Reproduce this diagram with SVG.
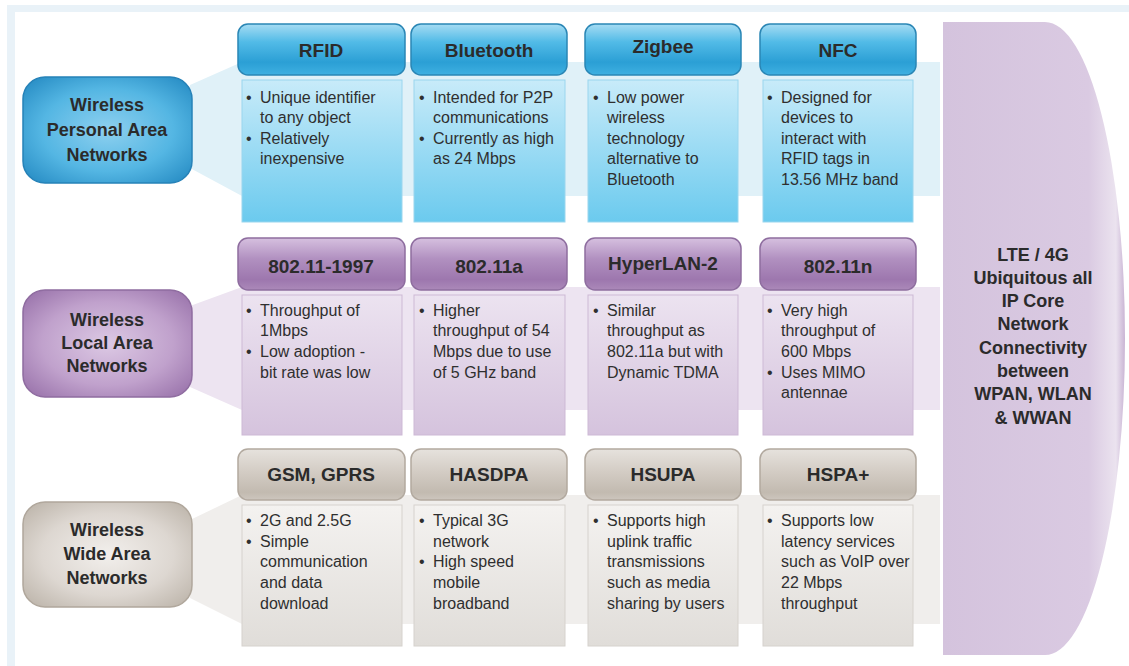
<svg xmlns="http://www.w3.org/2000/svg" width="1129" height="666" viewBox="0 0 1129 666">
<defs>
<linearGradient id="hBlue" x1="0" y1="0" x2="0" y2="1"><stop offset="0" stop-color="#a6dcf3"/><stop offset="0.35" stop-color="#52bbe7"/><stop offset="0.75" stop-color="#2b9fd5"/><stop offset="1" stop-color="#3fb0e1"/></linearGradient>
<linearGradient id="hPurple" x1="0" y1="0" x2="0" y2="1"><stop offset="0" stop-color="#d6c0df"/><stop offset="0.4" stop-color="#b190c0"/><stop offset="0.8" stop-color="#9d77ae"/><stop offset="1" stop-color="#ab89b9"/></linearGradient>
<linearGradient id="hGray" x1="0" y1="0" x2="0" y2="1"><stop offset="0" stop-color="#e6e2dd"/><stop offset="0.45" stop-color="#d3ccc4"/><stop offset="0.85" stop-color="#c2bab0"/><stop offset="1" stop-color="#cdc6be"/></linearGradient>
<linearGradient id="bBlue" x1="0" y1="0" x2="0" y2="1"><stop offset="0" stop-color="#c8ebf9"/><stop offset="1" stop-color="#6bcaee"/></linearGradient>
<linearGradient id="bPurple" x1="0" y1="0" x2="0" y2="1"><stop offset="0" stop-color="#ece3f0"/><stop offset="1" stop-color="#d5c3dd"/></linearGradient>
<linearGradient id="bGray" x1="0" y1="0" x2="0" y2="1"><stop offset="0" stop-color="#f4f2f0"/><stop offset="1" stop-color="#e0ddd9"/></linearGradient>
<radialGradient id="lBlue" cx="0.5" cy="0.5" r="0.65"><stop offset="0" stop-color="#8ed0ef"/><stop offset="0.6" stop-color="#54b6e3"/><stop offset="1" stop-color="#2a8fc6"/></radialGradient>
<radialGradient id="lPurple" cx="0.5" cy="0.5" r="0.65"><stop offset="0" stop-color="#dcc9e4"/><stop offset="0.6" stop-color="#c0a1cc"/><stop offset="1" stop-color="#9c76ad"/></radialGradient>
<radialGradient id="lGray" cx="0.5" cy="0.5" r="0.65"><stop offset="0" stop-color="#f2efec"/><stop offset="0.6" stop-color="#ddd7d1"/><stop offset="1" stop-color="#bfb7ad"/></radialGradient>
<linearGradient id="arch" x1="0" y1="0" x2="1" y2="0"><stop offset="0" stop-color="#d4c3dd"/><stop offset="0.8" stop-color="#dacae2"/><stop offset="0.95" stop-color="#ebe3ef"/><stop offset="1" stop-color="#c9b4d4"/></linearGradient>
</defs>
<style>
.hd{font-family:"Liberation Sans",Arial,sans-serif;font-weight:bold;font-size:19px;fill:#2b2b2b;text-anchor:middle}
.lb{font-family:"Liberation Sans",Arial,sans-serif;font-weight:bold;font-size:18px;fill:#2b2b2b;text-anchor:middle}
.tx{font-family:"Liberation Sans",Arial,sans-serif;font-size:16px;fill:#2f2f2f}
.hB{fill:url(#hBlue);stroke:#2a86b5;stroke-width:1.5}
.hP{fill:url(#hPurple);stroke:#8e6d9f;stroke-width:1.5}
.hG{fill:url(#hGray);stroke:#b2a99f;stroke-width:1.5}
.bB{fill:url(#bBlue);stroke:#9ad6ee;stroke-width:1}
.bP{fill:url(#bPurple);stroke:#cdb9d5;stroke-width:1}
.bG{fill:url(#bGray);stroke:#d6d2cd;stroke-width:1}
.lBl{fill:url(#lBlue);stroke:#2682b8;stroke-width:1.5}
.lPu{fill:url(#lPurple);stroke:#8f6ca0;stroke-width:1.5}
.lGr{fill:url(#lGray);stroke:#b0a79c;stroke-width:1.5}
</style>
<rect width="1129" height="666" fill="#ffffff"/>
<path d="M7,5 H1129 V12 H15 V666 H7 Z" fill="#e9f2f8"/>
<g id="connectors">
<polygon points="190,85 242,62 940,62 940,196 242,196 190,168" fill="#e0f1f8"/>
<polygon points="190,306 242,287 940,287 940,410 242,410 190,387" fill="#ede4f1"/>
<polygon points="190,520 242,495 940,495 940,624 242,624 190,598" fill="#f0eeec"/>
</g>
<g id="arch-lte">
<path d="M943,22 H1045 A80,316.5 0 0 1 1045,655 H943 Z" fill="url(#arch)"/>
<text class="lb" x="1033" y="261">LTE / 4G</text>
<text class="lb" x="1033" y="284">Ubiquitous all</text>
<text class="lb" x="1033" y="307">IP Core</text>
<text class="lb" x="1033" y="330">Network</text>
<text class="lb" x="1033" y="354">Connectivity</text>
<text class="lb" x="1033" y="377">between</text>
<text class="lb" x="1033" y="400">WPAN, WLAN</text>
<text class="lb" x="1033" y="424">&amp; WWAN</text>
</g>
<g id="label-wpan">
<rect class="lBl" x="23" y="77" width="169" height="106" rx="22"/>
<text class="lb" x="107" y="111">Wireless</text>
<text class="lb" x="107" y="136">Personal Area</text>
<text class="lb" x="107" y="161">Networks</text>
</g>
<g id="label-wlan">
<rect class="lPu" x="23" y="290" width="169" height="107" rx="22"/>
<text class="lb" x="107" y="326">Wireless</text>
<text class="lb" x="107" y="349">Local Area</text>
<text class="lb" x="107" y="372">Networks</text>
</g>
<g id="label-wwan">
<rect class="lGr" x="23" y="502" width="169" height="105" rx="22"/>
<text class="lb" x="107" y="536">Wireless</text>
<text class="lb" x="107" y="560">Wide Area</text>
<text class="lb" x="107" y="584">Networks</text>
</g>
<!-- Row 1 -->
<g id="rfid">
<rect class="bB" x="242" y="80" width="160" height="142"/>
<rect class="hB" x="238" y="24" width="167" height="51" rx="10"/>
<text class="hd" x="321" y="57">RFID</text>
<text class="tx" x="246" y="103">•</text><text class="tx" x="260" y="103">Unique identifier</text>
<text class="tx" x="260" y="123">to any object</text>
<text class="tx" x="246" y="144">•</text><text class="tx" x="260" y="144">Relatively</text>
<text class="tx" x="260" y="164">inexpensive</text>
</g>
<g id="bluetooth">
<rect class="bB" x="414" y="80" width="151" height="142"/>
<rect class="hB" x="411" y="24" width="156" height="51" rx="10"/>
<text class="hd" x="489" y="57">Bluetooth</text>
<text class="tx" x="419" y="103">•</text><text class="tx" x="433" y="103">Intended for P2P</text>
<text class="tx" x="433" y="123">communications</text>
<text class="tx" x="419" y="144">•</text><text class="tx" x="433" y="144">Currently as high</text>
<text class="tx" x="433" y="164">as 24 Mbps</text>
</g>
<g id="zigbee">
<rect class="bB" x="588" y="80" width="150" height="142"/>
<rect class="hB" x="585" y="24" width="156" height="51" rx="10"/>
<text class="hd" x="663" y="53">Zigbee</text>
<text class="tx" x="593" y="103">•</text><text class="tx" x="607" y="103">Low power</text>
<text class="tx" x="607" y="123">wireless</text>
<text class="tx" x="607" y="144">technology</text>
<text class="tx" x="607" y="164">alternative to</text>
<text class="tx" x="607" y="185">Bluetooth</text>
</g>
<g id="nfc">
<rect class="bB" x="763" y="80" width="150" height="142"/>
<rect class="hB" x="760" y="24" width="156" height="51" rx="10"/>
<text class="hd" x="838" y="57">NFC</text>
<text class="tx" x="767" y="103">•</text><text class="tx" x="781" y="103">Designed for</text>
<text class="tx" x="781" y="123">devices to</text>
<text class="tx" x="781" y="144">interact with</text>
<text class="tx" x="781" y="164">RFID tags in</text>
<text class="tx" x="781" y="185">13.56 MHz band</text>
</g>
<!-- Row 2 -->
<g id="ieee-1997">
<rect class="bP" x="242" y="295" width="160" height="140"/>
<rect class="hP" x="238" y="238" width="167" height="52" rx="10"/>
<text class="hd" x="321" y="273">802.11-1997</text>
<text class="tx" x="246" y="316">•</text><text class="tx" x="260" y="316">Throughput of</text>
<text class="tx" x="260" y="336">1Mbps</text>
<text class="tx" x="246" y="357">•</text><text class="tx" x="260" y="357">Low adoption -</text>
<text class="tx" x="260" y="378">bit rate was low</text>
</g>
<g id="ieee-a">
<rect class="bP" x="414" y="295" width="151" height="140"/>
<rect class="hP" x="411" y="238" width="156" height="52" rx="10"/>
<text class="hd" x="489" y="273">802.11a</text>
<text class="tx" x="419" y="316">•</text><text class="tx" x="433" y="316">Higher</text>
<text class="tx" x="433" y="336">throughput of 54</text>
<text class="tx" x="433" y="357">Mbps due to use</text>
<text class="tx" x="433" y="378">of 5 GHz band</text>
</g>
<g id="hyperlan">
<rect class="bP" x="588" y="295" width="150" height="140"/>
<rect class="hP" x="585" y="238" width="156" height="52" rx="10"/>
<text class="hd" x="663" y="270">HyperLAN-2</text>
<text class="tx" x="593" y="316">•</text><text class="tx" x="607" y="316">Similar</text>
<text class="tx" x="607" y="336">throughput  as</text>
<text class="tx" x="607" y="357">802.11a but with</text>
<text class="tx" x="607" y="378">Dynamic TDMA</text>
</g>
<g id="ieee-n">
<rect class="bP" x="763" y="295" width="150" height="140"/>
<rect class="hP" x="760" y="238" width="156" height="52" rx="10"/>
<text class="hd" x="838" y="273">802.11n</text>
<text class="tx" x="767" y="316">•</text><text class="tx" x="781" y="316">Very high</text>
<text class="tx" x="781" y="336">throughput  of</text>
<text class="tx" x="781" y="357">600 Mbps</text>
<text class="tx" x="767" y="378">•</text><text class="tx" x="781" y="378">Uses MIMO</text>
<text class="tx" x="781" y="398">antennae</text>
</g>
<!-- Row 3 -->
<g id="gsm">
<rect class="bG" x="242" y="505" width="160" height="141"/>
<rect class="hG" x="238" y="449" width="167" height="51" rx="10"/>
<text class="hd" x="321" y="481">GSM, GPRS</text>
<text class="tx" x="246" y="526">•</text><text class="tx" x="260" y="526">2G and 2.5G</text>
<text class="tx" x="246" y="547">•</text><text class="tx" x="260" y="547">Simple</text>
<text class="tx" x="260" y="567">communication</text>
<text class="tx" x="260" y="588">and data</text>
<text class="tx" x="260" y="609">download</text>
</g>
<g id="hasdpa">
<rect class="bG" x="414" y="505" width="151" height="141"/>
<rect class="hG" x="411" y="449" width="156" height="51" rx="10"/>
<text class="hd" x="489" y="481">HASDPA</text>
<text class="tx" x="419" y="526">•</text><text class="tx" x="433" y="526">Typical 3G</text>
<text class="tx" x="433" y="547">network</text>
<text class="tx" x="419" y="567">•</text><text class="tx" x="433" y="567">High speed</text>
<text class="tx" x="433" y="588">mobile</text>
<text class="tx" x="433" y="609">broadband</text>
</g>
<g id="hsupa">
<rect class="bG" x="588" y="505" width="150" height="141"/>
<rect class="hG" x="585" y="449" width="156" height="51" rx="10"/>
<text class="hd" x="663" y="481">HSUPA</text>
<text class="tx" x="593" y="526">•</text><text class="tx" x="607" y="526">Supports high</text>
<text class="tx" x="607" y="547">uplink traffic</text>
<text class="tx" x="607" y="567">transmissions</text>
<text class="tx" x="607" y="588">such as media</text>
<text class="tx" x="607" y="609">sharing by users</text>
</g>
<g id="hspa-plus">
<rect class="bG" x="763" y="505" width="150" height="141"/>
<rect class="hG" x="760" y="449" width="156" height="51" rx="10"/>
<text class="hd" x="838" y="481">HSPA+</text>
<text class="tx" x="767" y="526">•</text><text class="tx" x="781" y="526">Supports low</text>
<text class="tx" x="781" y="547">latency services</text>
<text class="tx" x="781" y="567">such as VoIP over</text>
<text class="tx" x="781" y="588">22 Mbps</text>
<text class="tx" x="781" y="609">throughput</text>
</g>
</svg>
